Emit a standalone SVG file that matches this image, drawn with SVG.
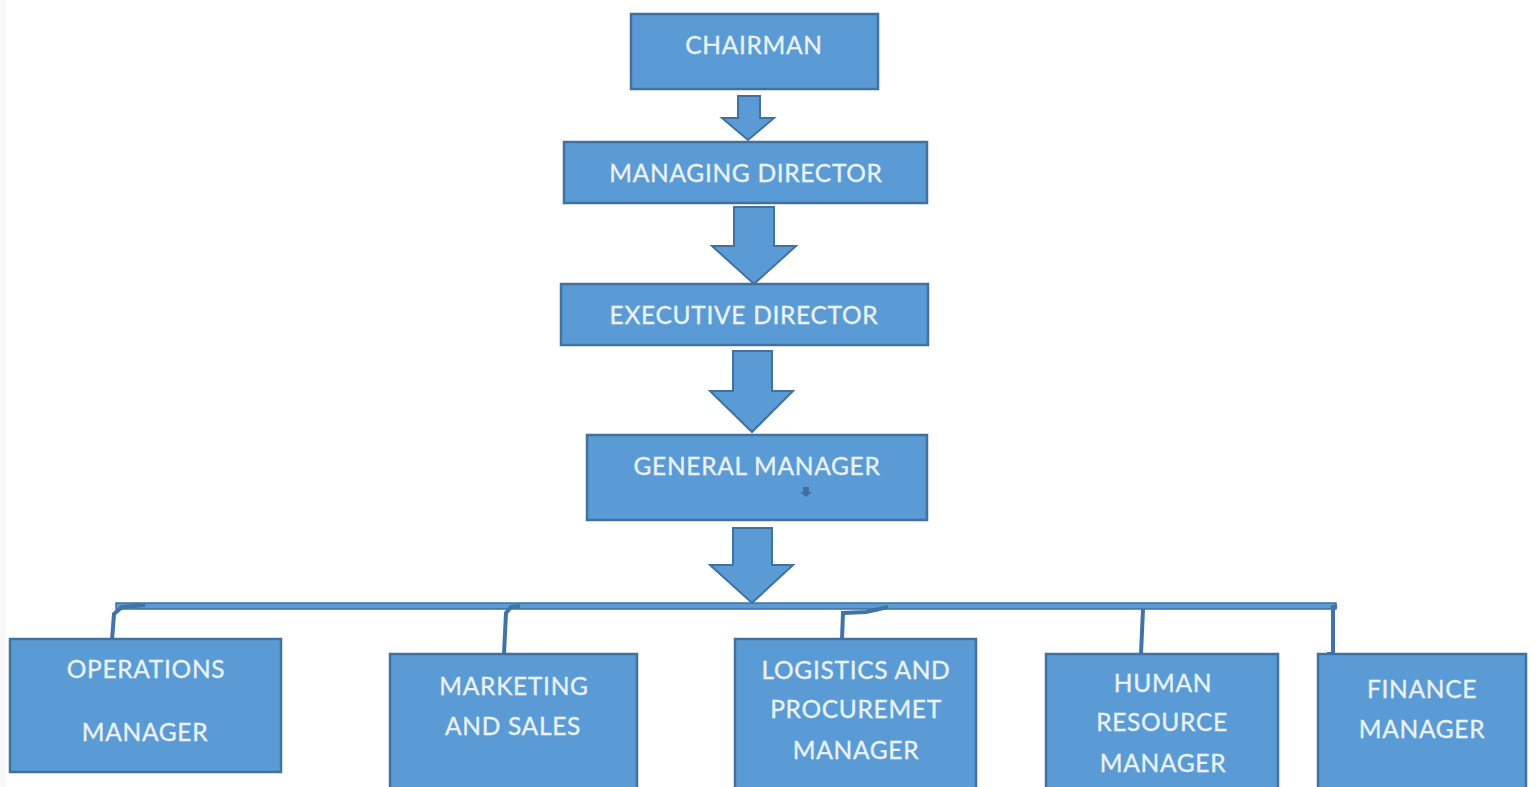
<svg xmlns="http://www.w3.org/2000/svg" width="1536" height="787" viewBox="0 0 1536 787">
<style>
.box{fill:#5b9bd5;stroke:#41719c;stroke-width:2.5}
.arr{fill:#5b9bd5;stroke:#41719c;stroke-width:2;stroke-linejoin:miter}
.t{font-family:Lato,"Open Sans","Liberation Sans",sans-serif;font-size:24.5px;letter-spacing:0.7px;fill:#eaf2fa;stroke:#eaf2fa;stroke-width:0.35px;text-anchor:middle}
.bar{fill:#5b9bd5;stroke:#41719c;stroke-width:1.5}
.cd{fill:none;stroke:#3f74a8;stroke-width:4}
</style>
<rect x="0" y="0" width="1536" height="787" fill="#ffffff"/>
<rect x="0" y="0" width="6" height="787" fill="#f7f7f7"/>
<g id="connectors">
<polygon class="arr" points="738,96 760,96 760,118 774,118 748,140 722,118 738,118"/>
<polygon class="arr" points="734,207 774,207 774,246 796,246 754,284 712,246 734,246"/>
<polygon class="arr" points="733,351 772,351 772,391 793,391 752,432 710,391 733,391"/>
<polygon class="arr" points="733,528 772,528 772,565 793,565 752,603 710,565 733,565"/>
<rect class="bar" x="116" y="603" width="1220" height="6"/>
<path class="cd" d="M112,640 L114,614 L122,607 L145,605"/>
<path class="cd" d="M504,654 L506,613 L511,607 L520,606"/>
<path class="cd" d="M842,639 L843,613 L866,612 L888,607"/>
<path class="cd" d="M1141,654 L1143,609"/>
<path class="cd" d="M1327,654 L1333,654 L1333,607 L1337,606"/>
</g>
<g id="chairman">
<rect class="box" x="631" y="14" width="247" height="75"/>
<text class="t" x="754" y="54">CHAIRMAN</text>
</g>
<g id="managing-director">
<rect class="box" x="564" y="142" width="363" height="61"/>
<text class="t" x="746" y="182">MANAGING DIRECTOR</text>
</g>
<g id="executive-director">
<rect class="box" x="561" y="284" width="367" height="61"/>
<text class="t" x="744" y="324">EXECUTIVE DIRECTOR</text>
</g>
<g id="general-manager">
<rect class="box" x="587" y="435" width="340" height="85"/>
<text class="t" x="757" y="475">GENERAL MANAGER</text>
<polygon points="803,487 809,487 809,492 812,492 806,497 800,492 803,492" fill="#3f6fa0"/>
</g>
<g id="operations-manager">
<rect class="box" x="10" y="639" width="271" height="133"/>
<text class="t" x="146" y="678">OPERATIONS</text>
<text class="t" x="145" y="741">MANAGER</text>
</g>
<g id="marketing-and-sales">
<rect class="box" x="390" y="654" width="247" height="135"/>
<text class="t" x="514" y="695">MARKETING</text>
<text class="t" x="513" y="735">AND SALES</text>
</g>
<g id="logistics-manager">
<rect class="box" x="735" y="639" width="241" height="150"/>
<text class="t" x="856" y="679">LOGISTICS AND</text>
<text class="t" x="856" y="718">PROCUREMET</text>
<text class="t" x="856" y="759">MANAGER</text>
</g>
<g id="hr-manager">
<rect class="box" x="1046" y="654" width="232" height="135"/>
<text class="t" x="1163" y="692">HUMAN</text>
<text class="t" x="1162" y="731">RESOURCE</text>
<text class="t" x="1163" y="772">MANAGER</text>
</g>
<g id="finance-manager">
<rect class="box" x="1318" y="654" width="208" height="135"/>
<text class="t" x="1422" y="698">FINANCE</text>
<text class="t" x="1422" y="738">MANAGER</text>
</g>
</svg>
